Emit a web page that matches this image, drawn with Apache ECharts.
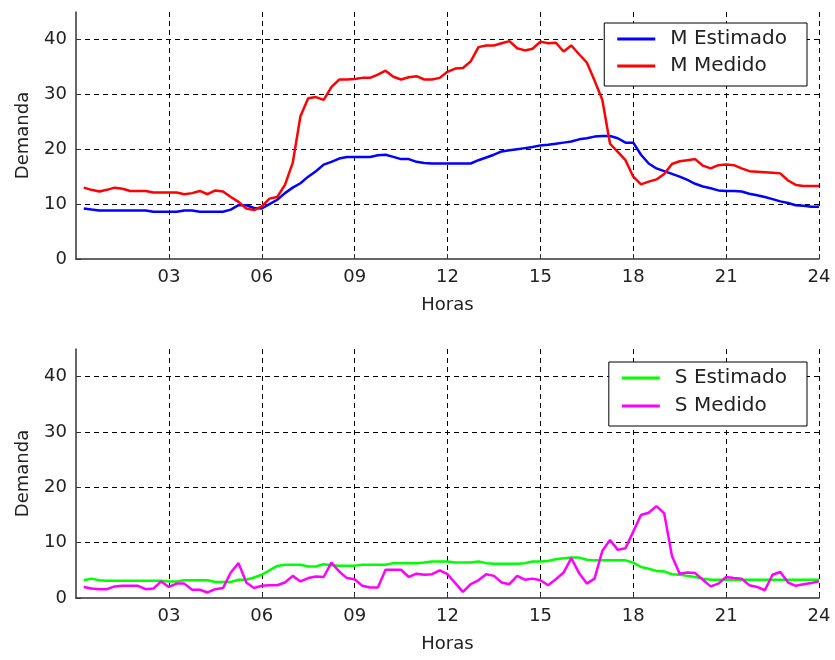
<!DOCTYPE html>
<html><head><meta charset="utf-8">
<script src="https://cdn.jsdelivr.net/npm/echarts@6/dist/echarts.min.js"></script>
<style>html,body{margin:0;padding:0;background:#fff}#c{width:835px;height:660px}</style>
</head><body><div id="c"></div><script>
var hours = [0.25,0.5,0.75,1,1.25,1.5,1.75,2,2.25,2.5,2.75,3,3.25,3.5,3.75,4,4.25,4.5,4.75,5,5.25,5.5,5.75,6,
6.25,6.5,6.75,7,7.25,7.5,7.75,8,8.25,8.5,8.75,9,9.25,9.5,9.75,10,10.25,10.5,10.75,11,11.25,11.5,11.75,12,
12.25,12.5,12.75,13,13.25,13.5,13.75,14,14.25,14.5,14.75,15,15.25,15.5,15.75,16,16.25,16.5,16.75,17,17.25,17.5,17.75,18,
18.25,18.5,18.75,19,19.25,19.5,19.75,20,20.25,20.5,20.75,21,21.25,21.5,21.75,22,22.25,22.5,22.75,23,23.25,23.5,23.75,24];

var mEstimado = [9.2,9.0,8.85,8.85, 8.85,8.85,8.85,8.85, 8.85,8.6,8.6,8.6, 8.6,8.85,8.85,8.6, 8.6,8.6,8.6,9.0,
9.8,9.8,9.3,9.2, 10.0,10.8,12.0,13.0, 13.8,15.0,16.0,17.2, 17.7,18.3,18.6,18.6, 18.6,18.6,18.9,19.0,
18.6,18.2,18.2,17.7, 17.5,17.4,17.4,17.4, 17.4,17.4,17.4,18.0, 18.5,19.0,19.6,19.8, 20.0,20.2,20.4,20.7,
20.8,21.0,21.2,21.4, 21.8,22.0,22.3,22.4, 22.4,22.0,21.2,21.2, 19.0,17.4,16.5,16.0, 15.5,15.0,14.4,13.7,
13.2,12.9,12.5,12.4, 12.4,12.3,11.9,11.6, 11.3,10.9,10.5,10.2, 9.8,9.7,9.5,9.5];

var mMedido = [13.0,12.6,12.3,12.6, 13.0,12.8,12.4,12.4, 12.4,12.1,12.1,12.1, 12.1,11.8,12.0,12.4, 11.8,12.5,12.3,11.3,
10.4,9.2,8.9,9.6, 11.0,11.3,13.5,17.5, 26.0,29.3,29.5,29.0, 31.3,32.7,32.7,32.8, 33.0,33.0,33.6,34.3,
33.2,32.7,33.1,33.3, 32.7,32.7,33.0,34.1, 34.7,34.8,36.0,38.6, 38.9,38.9,39.3,39.7, 38.4,38.0,38.3,39.6,
39.3,39.4,37.8,38.9, 37.3,35.8,32.5,29.0, 21.0,19.5,18.0,15.0, 13.6,14.1,14.5,15.5, 17.3,17.8,18.0,18.2,
17.0,16.5,17.1,17.2, 17.1,16.5,16.0,15.9, 15.8,15.7,15.6,14.3, 13.5,13.3,13.3,13.3];

var sEstimado = [3.2,3.5,3.2,3.1, 3.1,3.1,3.1,3.1, 3.1,3.1,3.1,3.0, 3.0,3.2,3.2,3.2, 3.2,2.9,2.9,2.9,
3.3,3.3,3.7,4.2, 5.0,5.8,6.0,6.0, 6.0,5.7,5.7,6.1, 5.9,5.85,5.85,5.85, 6.0,6.0,6.0,6.0,
6.3,6.3,6.3,6.3, 6.4,6.6,6.6,6.6, 6.4,6.4,6.4,6.6, 6.3,6.2,6.2,6.2, 6.2,6.3,6.6,6.6,
6.7,7.0,7.2,7.3, 7.3,6.9,6.8,6.8, 6.8,6.8,6.8,6.4, 5.6,5.3,4.9,4.8, 4.3,4.2,4.0,3.8,
3.5,3.3,3.3,3.3, 3.3,3.3,3.3,3.3, 3.3,3.3,3.3,3.3, 3.3,3.3,3.3,3.3];

var sMedido = [2.0,1.7,1.6,1.6, 2.1,2.2,2.2,2.2, 1.6,1.7,3.0,2.0, 2.6,2.6,1.5,1.5, 1.0,1.6,1.8,4.6,
6.3,2.8,1.8,2.2, 2.3,2.3,2.8,4.0, 3.0,3.6,3.9,3.8, 6.4,4.8,3.6,3.4, 2.2,1.9,1.9,5.1,
5.1,5.1,3.8,4.4, 4.2,4.3,5.0,4.3, 2.7,1.1,2.5,3.2, 4.3,4.0,2.8,2.5, 4.0,3.3,3.5,3.2,
2.3,3.4,4.6,7.2, 4.5,2.6,3.5,8.5, 10.5,8.7,9.0,12.0, 15.0,15.4,16.6,15.3, 7.6,4.4,4.6,4.5,
3.3,2.1,2.6,3.8, 3.6,3.5,2.3,2.0, 1.4,4.2,4.7,2.8, 2.2,2.5,2.7,3.0];

var xTicks = ['03','06','09','12','15','18','21','24'];
var yTicks = [0,10,20,30,40];

var FONT = 'DejaVu Sans';
function pairs(arr){ return hours.map(function(h,i){ return [h, arr[i]]; }); }

function makeX(g){
  return {type:'value', gridIndex:g, min:0, max:24, interval:3,
    name:'Horas', nameLocation:'middle', nameGap:37,
    nameTextStyle:{fontFamily:FONT, fontSize:18, color:'#222'},
    axisLine:{show:true, onZero:false, lineStyle:{color:'#333', width:1.5}},
    axisTick:{show:true, inside:true, length:5, lineStyle:{color:'#333'}},
    axisLabel:{showMinLabel:false, margin:9, fontFamily:FONT, fontSize:18, color:'#222',
      formatter:function(v){ var s = v<10 ? '0'+v : ''+v; return xTicks.indexOf(s)>=0 ? s : ''; }},
    splitLine:{show:true, showMinLine:false, lineStyle:{color:'#000', type:[5,4], width:1}}
  };
}
function makeY(g){
  return {type:'value', gridIndex:g, min:0, max:45, interval:10,
    name:'Demanda', nameLocation:'middle', nameGap:44, nameRotate:90,
    nameTextStyle:{fontFamily:FONT, fontSize:18, color:'#222'},
    axisLine:{show:true, onZero:false, lineStyle:{color:'#333', width:1.5}},
    axisTick:{show:true, inside:true, length:5, lineStyle:{color:'#333'}},
    axisLabel:{showMaxLabel:false, margin:9, fontFamily:FONT, fontSize:18, color:'#222',
      formatter:function(v){ return yTicks.indexOf(v)>=0 ? ''+v : ''; }},
    splitLine:{show:true, showMinLine:false, showMaxLine:false, lineStyle:{color:'#000', type:[5,4], width:1}}
  };
}
function line(name, arr, color, g){
  return {type:'line', name:name, xAxisIndex:g, yAxisIndex:g, data:pairs(arr),
    symbol:'none', showSymbol:false, lineStyle:{color:color, width:2.5}, itemStyle:{color:color}, z:3};
}
function legend(names, top, gap){
  return {data:names, orient:'vertical', right:28, top:top, icon:'rect', itemWidth:38, itemHeight:3, itemGap:gap,
    padding:[6,20,10,13], borderColor:'#000', borderWidth:1, backgroundColor:'#fff',
    textStyle:{fontFamily:FONT, fontSize:20, color:'#222', lineHeight:20, padding:[0,0,0,10]}};
}

var chart = echarts.init(document.getElementById('c'), null, {renderer:'canvas'});
chart.setOption({
  animation:false,
  backgroundColor:'#fff',
  grid:[{left:76, top:12, width:743, height:247}, {left:76, top:349, width:743, height:249}],
  xAxis:[makeX(0), makeX(1)],
  yAxis:[makeY(0), makeY(1)],
  legend:[legend(['M Estimado','M Medido'], 23, 7), legend(['S Estimado','S Medido'], 362, 8)],
  series:[
    line('M Estimado', mEstimado, '#0000ff', 0),
    line('M Medido', mMedido, '#ff0000', 0),
    line('S Estimado', sEstimado, '#00ff00', 1),
    line('S Medido', sMedido, '#ff00ff', 1)
  ]
});
</script></body></html>
